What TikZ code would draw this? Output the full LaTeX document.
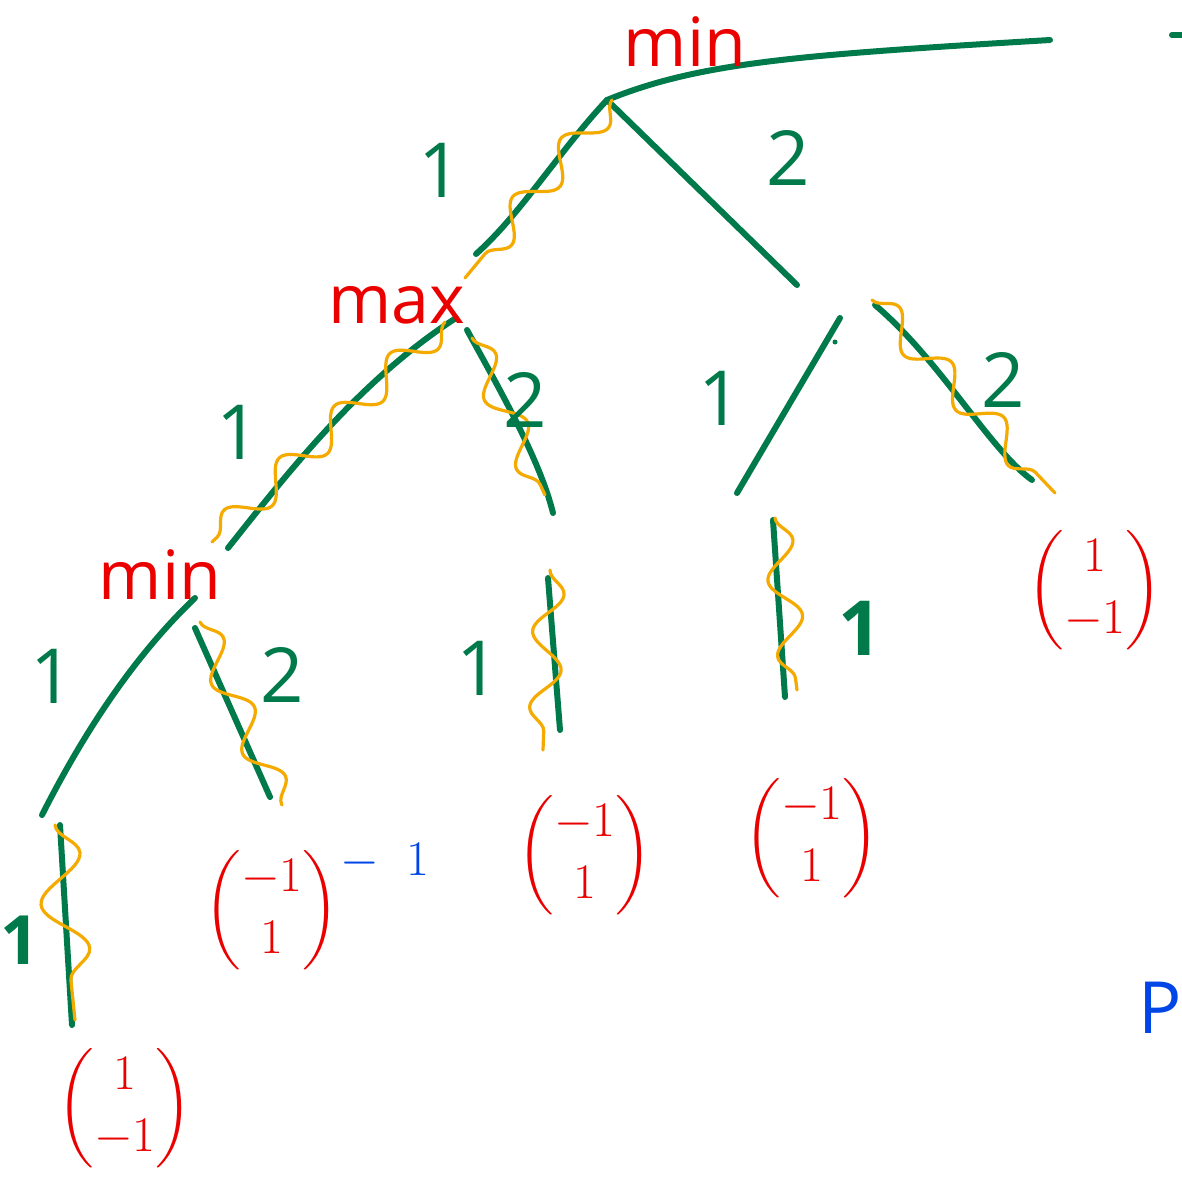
\documentclass[tikz,border=0pt]{standalone}
\usepackage{amsmath}
\usepackage{fontspec}
\setsansfont{Open Sans}
\usetikzlibrary{decorations.pathmorphing}
\definecolor{tgreen}{RGB}{0,122,74}
\definecolor{tred}{RGB}{235,0,0}
\definecolor{torange}{RGB}{245,170,0}
\definecolor{tblue}{RGB}{0,70,230}
\begin{document}
\begin{tikzpicture}[x=0.5pt,y=-0.5pt,
 edge/.style={draw=tgreen,line width=3pt,line cap=round},
 wave/.style={draw=torange,line width=1.6pt,line cap=round,decorate,decoration={snake,amplitude=7.5pt,segment length=38pt}},
 glab/.style={text=tgreen,font=\sffamily\fontsize{38}{44}\selectfont},
 rlab/.style={text=tred,font=\sffamily\fontsize{34}{40}\selectfont},
 vec/.style={text=tred,font=\fontsize{25}{31}\selectfont},
 blab/.style={text=tblue,font=\sffamily\fontsize{30}{36}\selectfont}]
\fill[white] (0,0) rectangle (1182,1183);
\useasboundingbox (0,0) rectangle (1182,1183);
% tree points
\coordinate (R) at (607,100);
\coordinate (top) at (1050,40);
\coordinate (d1) at (1172,35);
\coordinate (d2) at (1190,35);
\coordinate (A) at (476,254);
\coordinate (B) at (797,285);
\coordinate (M) at (456,318);
\coordinate (C) at (228,548);
\coordinate (M2) at (467,330);
\coordinate (D) at (553,513);
\coordinate (N) at (840,318);
\coordinate (E) at (737,493);
\coordinate (N2) at (875,305);
\coordinate (F) at (1032,480);
\coordinate (Q) at (195,598);
\coordinate (G) at (42,815);
\coordinate (Q2) at (195,628);
\coordinate (H) at (270,797);
\coordinate (L1a) at (60,825);
\coordinate (L1b) at (72,1025);
\coordinate (L2a) at (548,578);
\coordinate (L2b) at (560,730);
\coordinate (L3a) at (773,520);
\coordinate (L3b) at (785,697);
% green edges
\draw[edge] (R) .. controls (700,62) and (800,55) .. (top);
\draw[edge] (d1) -- (d2);
\draw[edge] (R) .. controls (560,150) and (520,215) .. (A);
\draw[edge] (R) -- (B);
\draw[edge] (M) .. controls (360,380) and (290,470) .. (C);
\draw[edge] (M2) .. controls (500,390) and (540,460) .. (D);
\draw[edge] (N) -- (E);
\draw[edge] (N2) .. controls (940,360) and (990,450) .. (F);
\draw[edge] (Q) .. controls (130,660) and (80,740) .. (G);
\draw[edge] (Q2) -- (H);
\draw[edge] (L1a) -- (L1b);
\draw[edge] (L2a) -- (L2b);
\draw[edge] (L3a) -- (L3b);
\fill[tgreen] (835,342) circle (2.5);
% orange waves
\coordinate (w1a) at (612,100); \coordinate (w1b) at (465,278);
\coordinate (w2a) at (445,322); \coordinate (w2b) at (212,542);
\coordinate (w3a) at (472,338); \coordinate (w3b) at (545,495);
\coordinate (w4a) at (872,300); \coordinate (w4b) at (1055,493);
\coordinate (w5a) at (200,622); \coordinate (w5b) at (282,805);
\coordinate (w6a) at (550,570); \coordinate (w6b) at (543,750);
\coordinate (w7a) at (775,518); \coordinate (w7b) at (797,690);
\coordinate (w8a) at (55,825); \coordinate (w8b) at (75,1020);
\draw[wave] (w1a) -- (w1b);
\draw[wave] (w2a) -- (w2b);
\draw[wave] (w3a) -- (w3b);
\draw[wave] (w4a) -- (w4b);
\draw[wave] (w5a) -- (w5b);
\draw[wave] (w6a) -- (w6b);
\draw[wave] (w7a) -- (w7b);
\draw[wave,decoration={snake,amplitude=11pt,segment length=48pt}] (w8a) -- (w8b);
% labels
\node[rlab] (tmin) at (685,42) {min};
\node[rlab] (tmax) at (397,305) {max};
\node[rlab] (tmin2) at (160,575) {min};
\node[glab] (l1) at (440,170) {1};
\node[glab] (l2) at (788,158) {2};
\node[glab] (l3) at (238,432) {1};
\node[glab] (l4) at (525,400) {2};
\node[glab] (l5) at (720,398) {1};
\node[glab] (l6) at (1003,380) {2};
\node[glab] (l7) at (52,676) {1};
\node[glab] (l8) at (282,675) {2};
\node[glab] (l9) at (478,668) {1};
\node[glab,font=\sffamily\bfseries\fontsize{38}{44}\selectfont] (l10) at (860,628) {1};
\node[glab,font=\sffamily\bfseries\fontsize{34}{40}\selectfont] (l11) at (20,940) {1};
% vectors
\node[vec] (v1) at (125,1108) {$\begin{pmatrix}1\\-1\end{pmatrix}$};
\node[vec] (v2) at (272,910) {$\begin{pmatrix}-1\\1\end{pmatrix}$};
\node[vec] (v3) at (585,855) {$\begin{pmatrix}-1\\1\end{pmatrix}$};
\node[vec] (v4) at (812,838) {$\begin{pmatrix}-1\\1\end{pmatrix}$};
\node[vec] (v5) at (1095,590) {$\begin{pmatrix}1\\-1\end{pmatrix}$};
\node[blab] (b1) at (385,862) {$-\;\;1$};
\node[blab,font=\sffamily\fontsize{36}{42}\selectfont] (b2) at (1160,1008) {P};
\end{tikzpicture}
\end{document}
